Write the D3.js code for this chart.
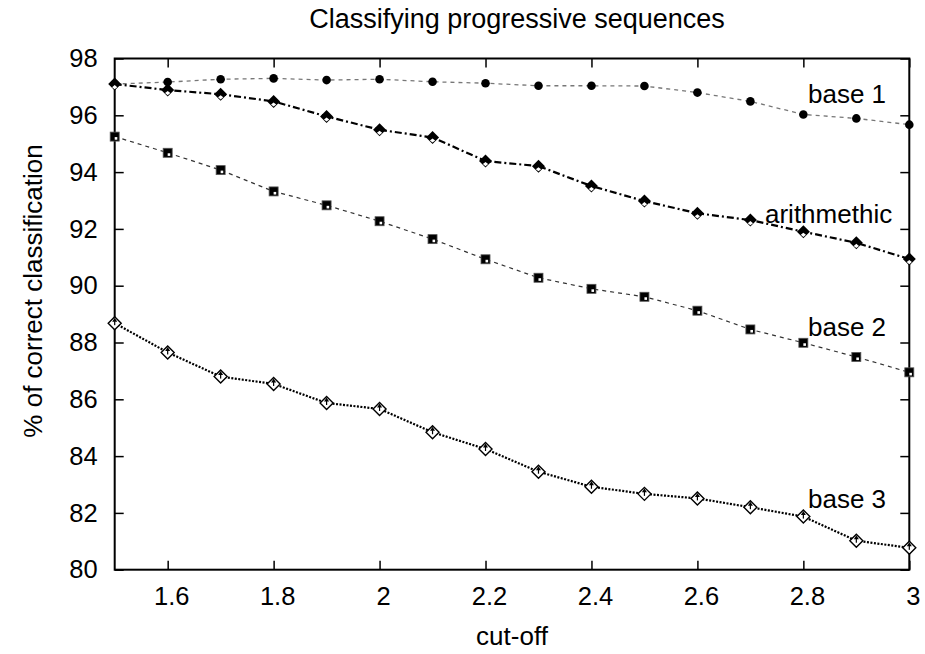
<!DOCTYPE html>
<html>
<head>
<meta charset="utf-8">
<script src="https://cdn.jsdelivr.net/npm/d3@7"></script>
<style>
  html, body { margin: 0; padding: 0; background: #fff; }
  svg text { font-family: "Liberation Sans", Arial, Helvetica, sans-serif; fill: #000; }
</style>
</head>
<body>
<svg id="chart" width="925" height="654"></svg>
<script>
// ---- data ----
const cutoffs = [1.5, 1.6, 1.7, 1.8, 1.9, 2.0, 2.1, 2.2, 2.3, 2.4, 2.5, 2.6, 2.7, 2.8, 2.9, 3.0];
const base1 = [97.10, 97.17, 97.27, 97.30, 97.24, 97.27, 97.18, 97.13, 97.04, 97.04, 97.03, 96.80, 96.49, 96.03, 95.89, 95.67];
const arithmethic = [97.10, 96.89, 96.74, 96.49, 95.96, 95.49, 95.22, 94.39, 94.21, 93.51, 92.98, 92.55, 92.31, 91.90, 91.51, 90.94];
const base2 = [95.25, 94.68, 94.07, 93.32, 92.83, 92.27, 91.64, 90.93, 90.28, 89.89, 89.61, 89.12, 88.46, 87.99, 87.49, 86.95];
const base3 = [88.68, 87.65, 86.80, 86.54, 85.87, 85.66, 84.84, 84.25, 83.45, 82.92, 82.67, 82.51, 82.20, 81.87, 81.02, 80.77];
const xTicks = [1.6, 1.8, 2.0, 2.2, 2.4, 2.6, 2.8, 3.0];
const xTickLabels = ["1.6", "1.8", "2", "2.2", "2.4", "2.6", "2.8", "3"];
const yTicks = [80, 82, 84, 86, 88, 90, 92, 94, 96, 98];
const seriesNames = ["base 1", "arithmethic", "base 2", "base 3"];
const title = "Classifying progressive sequences";
const xLabel = "cut-off";
const yLabel = "% of correct classification";

// ---- layout ----
const svg = d3.select("#chart");
const L = 114.7, R = 909.3, T = 58.5, B = 569.7;
const x = d3.scaleLinear().domain([1.5, 3]).range([L, R]);
const y = d3.scaleLinear().domain([80, 98]).range([B, T]);

// title and axis labels
svg.append("text").attr("x", 517).attr("y", 28).attr("text-anchor", "middle")
  .style("font-size", "27px").text(title);
svg.append("text").attr("x", 512).attr("y", 645).attr("text-anchor", "middle")
  .style("font-size", "26px").text(xLabel);
svg.append("text").attr("transform", `translate(42,291) rotate(-90)`)
  .attr("text-anchor", "middle").style("font-size", "26px").text(yLabel);

// axes (ticks inward on all sides)
const tickLen = 9;
const g = svg.append("g");
const axB = d3.axisBottom(x).tickValues(xTicks).tickSize(-tickLen).tickPadding(17)
  .tickFormat((d, i) => xTickLabels[i]);
const axT = d3.axisTop(x).tickValues(xTicks).tickSize(-tickLen).tickFormat("");
const axL = d3.axisLeft(y).tickValues(yTicks).tickSize(-tickLen).tickPadding(17)
  .tickFormat(d3.format("d"));
const axR = d3.axisRight(y).tickValues(yTicks).tickSize(-tickLen).tickFormat("");

function styleAxis(sel) {
  sel.select(".domain").remove();
  sel.selectAll(".tick line").attr("stroke", "#000").attr("stroke-width", 1.5);
  sel.selectAll(".tick text").style("font-size", "25.5px")
    .style("font-family", "'Liberation Sans', Arial, Helvetica, sans-serif").attr("fill", "#000");
}
g.append("g").attr("transform", `translate(0,${B})`).call(axB).call(styleAxis)
  .selectAll(".tick text").attr("dx", 3.5).attr("dy", "0.7em");
g.append("g").attr("transform", `translate(0,${T})`).call(axT).call(styleAxis);
g.append("g").attr("transform", `translate(${L},0)`).call(axL).call(styleAxis);
g.append("g").attr("transform", `translate(${R},0)`).call(axR).call(styleAxis);

svg.append("rect").attr("x", L).attr("y", T).attr("width", R - L).attr("height", B - T)
  .attr("fill", "none").attr("stroke", "#000").attr("stroke-width", 2);

// ---- series ----
const line = d3.line().x(d => x(d[0])).y(d => y(d[1]));
const zip = vals => cutoffs.map((c, i) => [c, vals[i]]);

const specs = [
  { vals: base1, stroke: "#777", width: 1.3, dash: "4,4", marker: "circle" },
  { vals: arithmethic, stroke: "#000", width: 2.2, dash: "7,3,2,3", marker: "diamondFilled" },
  { vals: base2, stroke: "#333", width: 1.2, dash: "4,4", marker: "square" },
  { vals: base3, stroke: "#000", width: 2.2, dash: "2,1.5", marker: "diamondOpen" }
];

const labelPos = [
  { x: 808, y: 103 },
  { x: 765, y: 223 },
  { x: 808, y: 336 },
  { x: 808, y: 508 }
];

specs.forEach((s, si) => {
  const data = zip(s.vals);
  svg.append("path").datum(data).attr("d", line).attr("fill", "none")
    .attr("stroke", s.stroke).attr("stroke-width", s.width).attr("stroke-dasharray", s.dash);
});

// markers drawn after lines
specs.forEach((s, si) => {
  const data = zip(s.vals);
  const mg = svg.append("g");
  data.forEach(d => {
    const cx = x(d[0]), cy = y(d[1]);
    if (s.marker === "circle") {
      mg.append("circle").attr("cx", cx).attr("cy", cy).attr("r", 4.3).attr("fill", "#000");
    } else if (s.marker === "square") {
      mg.append("rect").attr("x", cx - 4.5).attr("y", cy - 4.5).attr("width", 9).attr("height", 9)
        .attr("fill", "#000").attr("stroke", "#555").attr("stroke-width", 0.8);
      mg.append("rect").attr("x", cx).attr("y", cy + 0.5).attr("width", 2.6).attr("height", 2.6).attr("fill", "#fff");
    } else if (s.marker === "diamondFilled") {
      const h = 6.5;
      mg.append("path").attr("d", `M${cx},${cy - h}L${cx + h},${cy}L${cx},${cy + h}L${cx - h},${cy}Z`)
        .attr("fill", "#000");
      const k = 2.6;
      mg.append("path").attr("d", `M${cx},${cy + 1}L${cx + k},${cy + 1 + k * 0.8}L${cx},${cy + 1 + k * 1.6}L${cx - k},${cy + 1 + k * 0.8}Z`)
        .attr("fill", "#fff");
    } else if (s.marker === "diamondOpen") {
      const h = 6.5;
      mg.append("path").attr("d", `M${cx},${cy - h}L${cx + h},${cy}L${cx},${cy + h}L${cx - h},${cy}Z`)
        .attr("fill", "#fff").attr("stroke", "#000").attr("stroke-width", 1.4);
      mg.append("path").attr("d", `M${cx},${cy - h + 1}L${cx + 2.5},${cy - 1.5}L${cx - 2.5},${cy - 1.5}Z`)
        .attr("fill", "#000");
      mg.append("rect").attr("x", cx - 0.6).attr("y", cy - 2).attr("width", 1.2).attr("height", 4).attr("fill", "#000");
    }
  });
  svg.append("text").attr("x", labelPos[si].x).attr("y", labelPos[si].y)
    .style("font-size", "26px").text(seriesNames[si]);
});
</script>
</body>
</html>
